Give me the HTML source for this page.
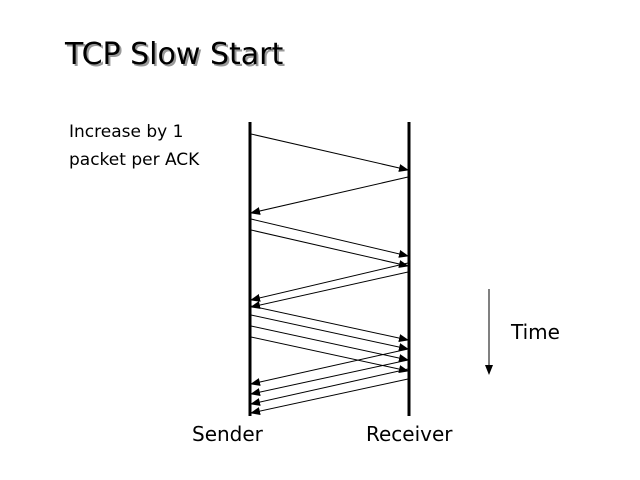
<!DOCTYPE html>
<html><head><meta charset="utf-8"><style>
html,body{margin:0;padding:0;background:#fff;width:640px;height:480px;overflow:hidden}
svg{display:block}
text{font-family:"DejaVu Sans","Liberation Sans",sans-serif;fill:#000}
</style></head><body>
<svg width="640" height="480" viewBox="0 0 640 480" xmlns="http://www.w3.org/2000/svg">
<defs>
<marker id="a" markerWidth="10" markerHeight="8" refX="9" refY="4" orient="auto" markerUnits="userSpaceOnUse">
<path d="M0,0 L10,4 L0,8 z" fill="#000"/></marker>
</defs>
<text x="67" y="66" font-size="30" style="fill:#999">TCP Slow Start</text>
<text x="65" y="64" font-size="30">TCP Slow Start</text>
<text x="69" y="137" font-size="17">Increase by 1</text>
<text x="69" y="165" font-size="17">packet per ACK</text>
<line x1="250" y1="122" x2="250" y2="416" stroke="#000" stroke-width="3"/>
<line x1="409" y1="122" x2="409" y2="416" stroke="#000" stroke-width="3"/>
<g stroke="#000" stroke-width="1" marker-end="url(#a)">
<line x1="251" y1="134" x2="408" y2="170"/>
<line x1="408" y1="177" x2="251" y2="213"/>
<line x1="251" y1="219" x2="408" y2="256"/>
<line x1="251" y1="230" x2="408" y2="266"/>
<line x1="408" y1="263" x2="251" y2="300"/>
<line x1="408" y1="272" x2="251" y2="307"/>
<line x1="251" y1="306" x2="408" y2="340"/>
<line x1="251" y1="315" x2="408" y2="349"/>
<line x1="251" y1="326" x2="408" y2="360"/>
<line x1="251" y1="337" x2="408" y2="371"/>
<line x1="408" y1="349" x2="251" y2="384"/>
<line x1="408" y1="360" x2="251" y2="394"/>
<line x1="408" y1="369" x2="251" y2="404"/>
<line x1="408" y1="379" x2="251" y2="413"/>
<line x1="489" y1="289" x2="489" y2="374"/>
</g>
<text x="511" y="339" font-size="20">Time</text>
<text x="192" y="441" font-size="20">Sender</text>
<text x="366" y="441" font-size="20">Receiver</text>
</svg>
</body></html>
